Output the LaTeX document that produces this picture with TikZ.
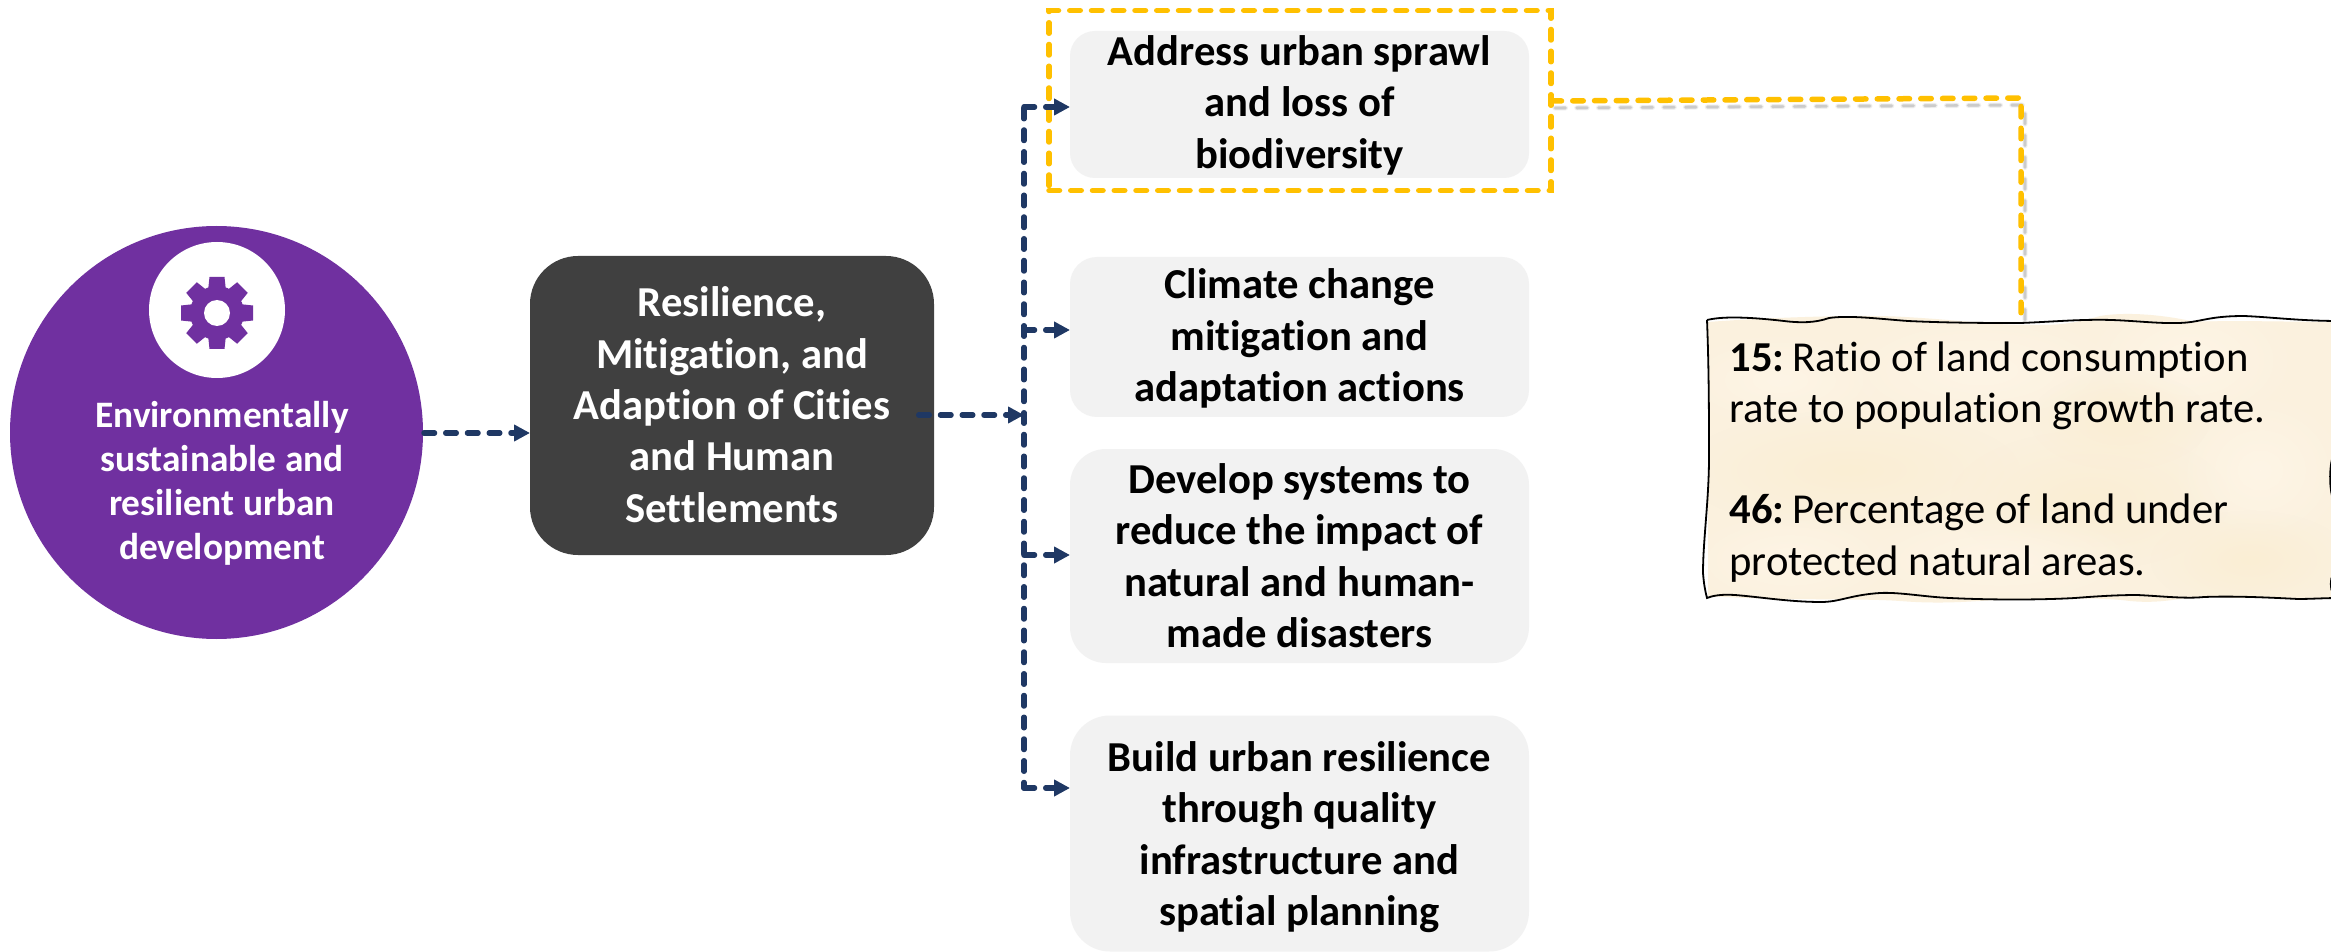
\documentclass[tikz,border=0pt]{standalone}
\usepackage{fontspec}
\setmainfont[Ligatures=NoCommon]{Carlito}
\usetikzlibrary{arrows.meta,fadings}
\definecolor{purp}{HTML}{7030A0}
\definecolor{darkbox}{HTML}{404040}
\definecolor{lightbox}{HTML}{F2F2F2}
\definecolor{flowblue}{HTML}{1F3864}
\definecolor{hilite}{HTML}{FFC000}
\definecolor{parch}{HTML}{FBF1DE}
\definecolor{parchl}{HTML}{FEF5E6}
\definecolor{parchd}{HTML}{FAEED4}
\tikzfading[name=softspot,inner color=transparent!0,outer color=transparent!100]
\newcommand{\firstline}[1]{\rule{0pt}{#1}}
\newcommand{\lastline}{\rule[-6pt]{0pt}{6pt}}
\tikzset{
  x=0.5pt,y=-0.5pt,
  lbox/.style={rectangle,fill=lightbox,minimum width=229.5pt,inner sep=0pt,
    font=\fontsize{21.33}{25.75}\selectfont\bfseries,align=center},
  dbox/.style={rectangle,fill=darkbox,text=white,minimum width=202pt,minimum height=149.5pt,
    rounded corners=24pt,inner sep=0pt,font=\fontsize{21.33}{25.75}\selectfont\bfseries,align=center},
  flowline/.style={draw=flowblue,line width=2.75pt,line cap=round,dash pattern=on 5.25pt off 5.625pt},
  flowhead/.style={flowline,-{Triangle[length=8pt,width=8pt]}},
  hilitebox/.style={rectangle,draw=hilite,line width=2.75pt,line cap=round,dash pattern=on 5.25pt off 5.625pt,
    minimum width=251pt,minimum height=90pt,inner sep=0pt},
  hiliteline/.style={draw=hilite,line width=2.75pt,line cap=round,dash pattern=on 5.25pt off 5.625pt},
  hshadow/.style={draw=black,line cap=round,dash pattern=on 5.25pt off 5.625pt},
}
\begin{document}
\begin{tikzpicture}
\clip (0,0) rectangle (2331,952);
\fill[white] (0,0) rectangle (2331,952);

% circle with icon
\node[circle,fill=purp,minimum size=206.5pt,inner sep=0pt] (main) at (216.5,432.5) {};
\node[circle,fill=white,minimum size=68pt,inner sep=0pt] (icon) at (217,310) {};
\begin{scope}[shift={(217,313)}]
  \foreach \a in {0,45,...,315}{
    \fill[purp,rotate=\a] (-9,-22) -- (-7.5,-36) -- (7.5,-36) -- (9,-22) -- cycle;
  }
  \fill[purp] (0,0) circle (13.5pt);
  \fill[white] (0,0) circle (6.5pt);
\end{scope}
\node[font=\fontsize{18.67}{22}\selectfont\bfseries,text=white,align=center,inner sep=0pt] (maintext) at (222,485)
  {\firstline{14.5pt}Environmentally\\sustainable and\\resilient urban\\development\lastline};

% centre box
\node[dbox] (res) at (732,405.5)
  {\firstline{20pt}Resilience,\\Mitigation, and\\Adaption of Cities\\and Human\\Settlements\lastline};

% right boxes
\node[lbox,minimum height=73.5pt,rounded corners=12.5pt] (b1) at (1299.5,104.5)
  {\firstline{16.5pt}Address urban sprawl\\and loss of\\biodiversity\rule[-4pt]{0pt}{4pt}};
\node[lbox,minimum height=80pt,rounded corners=13.5pt] (b2) at (1299.5,337)
  {\firstline{19pt}Climate change\\mitigation and\\adaptation actions\lastline};
\node[lbox,minimum height=107pt,rounded corners=18pt] (b3) at (1299.5,556)
  {\firstline{20.65pt}Develop systems to\\reduce the impact of\\natural and human-\\made disasters\lastline};
\node[lbox,minimum height=118pt,rounded corners=20pt] (b4) at (1299.5,833.5)
  {\firstline{21pt}Build urban resilience\\through quality\\infrastructure and\\spatial planning\lastline};

% highlight frame
\node[hilitebox] (frame) at (1300,100.5) {};

% note shape
\begin{scope}
\path[fill=parch] (1708,322) .. controls (1760,318) and (1860,314) .. (1905,317)
  .. controls (1960,320) and (1990,325) .. (2030,325)
  .. controls (2060,326) and (2080,322) .. (2100,316)
  .. controls (2130,311) and (2170,316) .. (2195,322)
  .. controls (2230,320) and (2290,322) .. (2340,322)
  -- (2340,598)
  .. controls (2300,597) and (2240,600) .. (2205,596)
  .. controls (2180,598) and (2160,604) .. (2130,601)
  .. controls (2100,597) and (2060,599) .. (2020,599)
  .. controls (1980,600) and (1950,605) .. (1900,601)
  .. controls (1860,598) and (1780,601) .. (1708,596) -- cycle;
\begin{scope}
\clip (1708,322) rectangle (2340,596);
\foreach \cx/\cy/\rx/\ry/\c in {
  1780/380/110/50/parchl,1980/370/150/60/parchl,2190/360/110/70/parchl,
  1850/470/170/60/parchd,2090/500/140/70/parchd,2260/470/90/80/parchl,
  1790/560/110/50/parchl,2000/560/150/50/parchl,2250/560/100/50/parchd,
  2120/420/90/50/parchd}{
  \fill[\c,path fading=softspot] (\cx,\cy) ellipse ({\rx*0.5pt} and {\ry*0.5pt});
}
\end{scope}
\end{scope}
\draw[black,line width=0.9pt] (1707,320) .. controls (1720,317) and (1740,316) .. (1784,321)
  .. controls (1800,323) and (1815,323) .. (1829,318)
  .. controls (1850,315) and (1880,319) .. (1908,321)
  .. controls (1950,323) and (1990,323) .. (2020,323)
  .. controls (2050,322) and (2080,319) .. (2112,320)
  .. controls (2140,321) and (2170,325) .. (2191,322)
  .. controls (2205,320) and (2215,316) .. (2244,316)
  .. controls (2270,317) and (2300,321) .. (2340,321);
\draw[black,line width=0.9pt] (1707,320) .. controls (1709,370) and (1709,420) .. (1709,457)
  .. controls (1709,500) and (1703,540) .. (1703,573)
  .. controls (1704,585) and (1705,590) .. (1707,598)
  .. controls (1712,596) and (1720,594) .. (1735,595)
  .. controls (1760,597) and (1790,602) .. (1821,602)
  .. controls (1840,602) and (1850,595) .. (1880,593)
  .. controls (1900,592) and (1925,597) .. (1950,598)
  .. controls (1990,600) and (2040,600) .. (2075,598)
  .. controls (2100,596) and (2120,595) .. (2137,595)
  .. controls (2160,596) and (2185,599) .. (2204,597)
  .. controls (2230,596) and (2260,597) .. (2298,599)
  .. controls (2310,599) and (2325,598) .. (2340,598);
\draw[black,line width=0.9pt] (2335,450) .. controls (2329,462) and (2328,490) .. (2335,505);
\draw[black,line width=0.9pt] (2333,574) .. controls (2330,580) and (2330,588) .. (2333,594);

\node[font=\fontsize{21.33}{25.75}\selectfont,align=left,anchor=north west,inner sep=0pt] (note) at (1729,341)
  {\firstline{14.5pt}\textbf{15:}\hspace{-2.4pt} Ratio of land consumption\\rate to population growth rate.\\[24.75pt]\textbf{46:}\hspace{-2.4pt} Percentage of land under\\protected natural areas.};

% named points
\coordinate (mainout) at (424,433);
\coordinate (resin) at (530,433);
\coordinate (resout) at (918.75,415);
\coordinate (hub) at (1024,415);
\coordinate (t1) at (1024,107);
\coordinate (t2) at (1024,330);
\coordinate (t3) at (1024,555);
\coordinate (t4) at (1024,788);
\coordinate (e1) at (1070,107);
\coordinate (e2) at (1070,330);
\coordinate (e3) at (1070,555);
\coordinate (e4) at (1070,788);
\coordinate (ystart) at (1551,101);
\coordinate (ybend) at (2021,98);
\coordinate (yend) at (2021,322);

% connectors
\draw[flowhead] (mainout) -- (resin);
\draw[flowhead] (resout) -- (hub);
\draw[flowline,dash phase=10.25pt] (t1) -- (t4);
\draw[flowhead] (t1) -- (e1);
\draw[flowhead] (t2) -- (e2);
\draw[flowhead] (t3) -- (e3);
\draw[flowhead] (t4) -- (e4);

\begin{scope}[transform canvas={xshift=2pt,yshift=-3.5pt}]
  \draw[hshadow,line width=2.6pt,opacity=.05] (ystart) -- (ybend) -- (yend);
  \draw[hshadow,line width=1.9pt,opacity=.07] (ystart) -- (ybend) -- (yend);
  \draw[hshadow,line width=1.2pt,opacity=.09] (ystart) -- (ybend) -- (yend);
\end{scope}
\draw[hiliteline] (ystart) -- (ybend) -- (yend);
\end{tikzpicture}
\end{document}
